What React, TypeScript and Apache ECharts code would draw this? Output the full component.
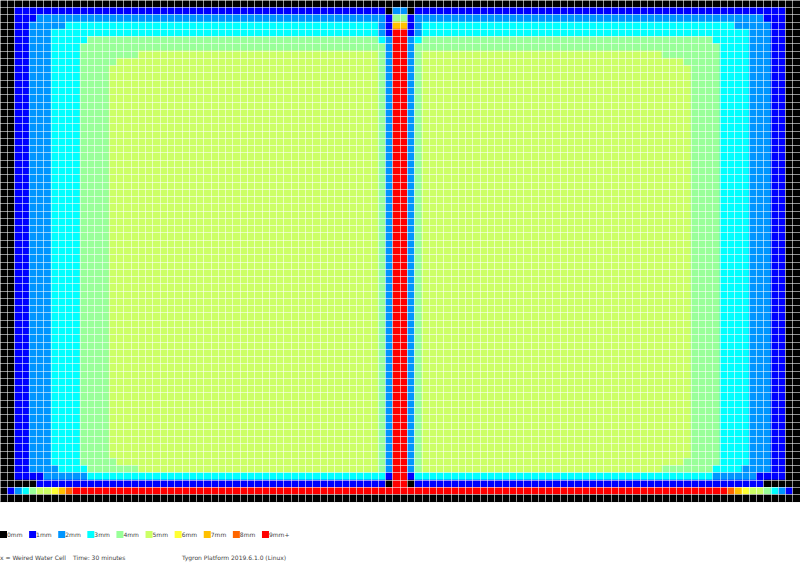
import React, { useEffect, useRef } from "react";
import * as echarts from "echarts";

type Run = [number, number];

// Depth class and repeat count, from the left edge up to the first centre column.
const rowTop: Run[] = [[0, 55]];
const row1: Run[] = [[0, 2], [1, 51], [0, 1], [2, 1]];
const row2: Run[] = [[0, 2], [1, 3], [2, 48], [1, 1], [4, 1]];
const row3: Run[] = [[0, 2], [1, 2], [2, 5], [3, 43], [2, 1], [1, 1], [7, 1]];
const row4: Run[] = [[0, 2], [1, 2], [2, 3], [3, 45], [2, 1], [1, 1], [9, 1]];
const row5: Run[] = [[0, 2], [1, 2], [2, 3], [3, 5], [4, 40], [3, 1], [2, 1], [9, 1]];
const row6: Run[] = [[0, 2], [1, 2], [2, 3], [3, 4], [4, 42], [2, 1], [9, 1]];
const row7: Run[] = [[0, 2], [1, 2], [2, 3], [3, 4], [4, 8], [5, 33], [4, 1], [2, 1], [9, 1]];
const row8: Run[] = [[0, 2], [1, 2], [2, 3], [3, 4], [4, 5], [5, 36], [4, 1], [2, 1], [9, 1]];
const rowMid: Run[] = [[0, 2], [1, 2], [2, 3], [3, 4], [4, 4], [5, 37], [4, 1], [2, 1], [9, 1]];
const row64: Run[] = [[0, 2], [1, 2], [2, 4], [3, 4], [4, 7], [5, 33], [4, 1], [2, 1], [9, 1]];
const row65: Run[] = [[0, 2], [1, 4], [2, 6], [3, 41], [1, 1], [9, 1]];
const row66: Run[] = [[0, 5], [1, 48], [0, 1], [9, 1]];
const row67: Run[] = [[0, 1], [1, 1], [2, 1], [3, 1], [4, 1], [5, 2], [6, 1], [7, 1], [8, 1], [9, 45]];
const rowBottom: Run[] = [[0, 55]];

const midRowCount = 54; // rows 9 to 62 all read the same
const gridRows: Run[][] = [
  rowTop, row1, row2, row3, row4, row5, row6, row7, row8,
  ...new Array(midRowCount).fill(rowMid),
  row8, row64, row65, row66, row67, rowBottom,
];

const legendLabels = ["0mm", "1mm", "2mm", "3mm", "4mm", "5mm", "6mm", "7mm", "8mm", "9mm+"];
const legendColors = ["#000000", "#0000ff", "#0095ff", "#00ffff", "#99ff99", "#ccff66", "#ffff33", "#ffc000", "#ff6600", "#ff0000"];
const footerTexts = ["x = Weired Water Cell", "Time: 30 minutes", "Tygron Platform 2019.6.1.0 (Linux)"];

const COLS = 110;
const ROWS = gridRows.length;
const CELL = 800 / COLS;

function buildCells(): number[][] {
  const cells: number[][] = [];
  gridRows.forEach((runs, y) => {
    const left: number[] = [];
    runs.forEach(([v, n]) => {
      for (let i = 0; i < n; i++) left.push(v);
    });
    const full = [...left, ...[...left].reverse()];
    full.forEach((v, x) => cells.push([x, y, v]));
  });
  return cells;
}

export default function App() {
  const ref = useRef<HTMLDivElement>(null);
  useEffect(() => {
    const chart = echarts.init(ref.current!, undefined, { renderer: "svg" });
    const gridLine = {
      show: true,
      interval: 0,
      lineStyle: { color: "rgba(255,255,255,0.55)", width: 1 },
    };
    const fontFamily = "'DejaVu Sans', sans-serif";
    const textColor = "#444444";
    chart.setOption({
      animation: false,
      backgroundColor: "#ffffff",
      grid: { left: 0, top: 0, width: 800, height: ROWS * CELL, containLabel: false },
      xAxis: {
        type: "category",
        z: 5,
        data: Array.from({ length: COLS }, (_, i) => String(i)),
        axisLine: { show: false },
        axisTick: { show: false },
        axisLabel: { show: false },
        splitLine: gridLine,
      },
      yAxis: {
        type: "category",
        inverse: true,
        z: 5,
        data: Array.from({ length: ROWS }, (_, i) => String(i)),
        axisLine: { show: false },
        axisTick: { show: false },
        axisLabel: { show: false },
        splitLine: gridLine,
      },
      visualMap: {
        type: "piecewise",
        show: true,
        orient: "horizontal",
        left: 0,
        top: 531,
        padding: 0,
        align: "left",
        itemSymbol: "rect",
        itemWidth: 7,
        itemHeight: 7,
        itemGap: 6.6,
        textGap: 0,
        selectedMode: false,
        hoverLink: false,
        dimension: 2,
        seriesIndex: 0,
        pieces: legendLabels.map((label, i) => ({ value: i, label, color: legendColors[i] })),
        textStyle: { fontFamily, fontSize: 6, color: textColor, padding: [4, 0, 0, 0] },
      },
      series: [
        {
          name: "Water depth",
          type: "heatmap",
          data: buildCells(),
          progressive: 0,
          itemStyle: { borderWidth: 0 },
          emphasis: { disabled: true },
        },
      ],
      graphic: [
        { type: "text", left: 0, top: 554, style: { text: footerTexts[0], font: `6px ${fontFamily}`, fill: textColor } },
        { type: "text", left: 73, top: 554, style: { text: footerTexts[1], font: `6px ${fontFamily}`, fill: textColor } },
        { type: "text", left: 182, top: 554, style: { text: footerTexts[2], font: `6px ${fontFamily}`, fill: textColor } },
      ],
    });
    return () => chart.dispose();
  }, []);
  return <div ref={ref} style={{ position: "fixed", left: 0, top: 0, width: 800, height: 575 }} />;
}
